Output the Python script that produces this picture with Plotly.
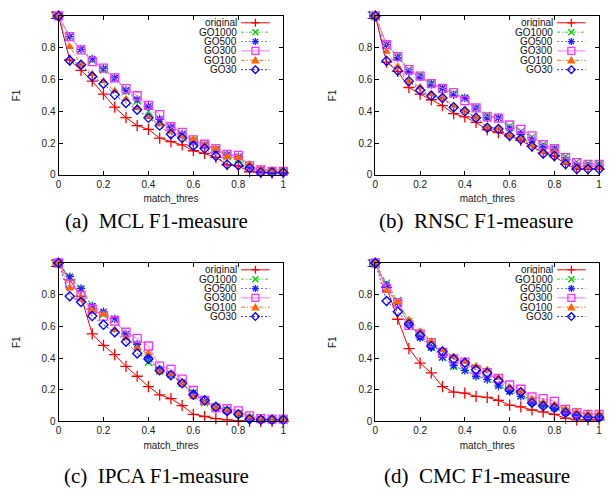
import plotly.graph_objects as go

thres = [0, 0.05, 0.1, 0.15, 0.2, 0.25, 0.3, 0.35, 0.4, 0.45, 0.5,
         0.55, 0.6, 0.65, 0.7, 0.75, 0.8, 0.85, 0.9, 0.95, 1.0]

series_names = ["original", "GO1000", "GO500", "GO300", "GO100", "GO30"]

# (a) MCL
mcl_original = [1.0, 0.723, 0.658, 0.59, 0.508, 0.426, 0.36, 0.31, 0.287, 0.232, 0.209,
                0.189, 0.152, 0.135, 0.11, 0.064, 0.057, 0.02, 0.015, 0.012, 0.012]
mcl_go1000 = [1.0, 0.87, 0.79, 0.72, 0.66, 0.607, 0.525, 0.467, 0.40, 0.334, 0.297,
              0.248, 0.217, 0.19, 0.16, 0.115, 0.10, 0.047, 0.03, 0.022, 0.02]
mcl_go500 = [1.0, 0.87, 0.79, 0.73, 0.67, 0.61, 0.533, 0.475, 0.432, 0.35, 0.30,
             0.258, 0.205, 0.185, 0.16, 0.127, 0.115, 0.049, 0.027, 0.02, 0.016]
mcl_go300 = [1.0, 0.87, 0.787, 0.713, 0.672, 0.61, 0.543, 0.498, 0.438, 0.379, 0.303,
             0.268, 0.221, 0.193, 0.166, 0.129, 0.123, 0.057, 0.031, 0.023, 0.023]
mcl_go100 = [1.0, 0.805, 0.693, 0.635, 0.59, 0.529, 0.477, 0.422, 0.365, 0.32, 0.273,
             0.242, 0.225, 0.19, 0.166, 0.115, 0.109, 0.068, 0.037, 0.031, 0.031]
mcl_go30 = [1.0, 0.72, 0.693, 0.619, 0.574, 0.504, 0.453, 0.41, 0.359, 0.31, 0.256,
            0.232, 0.184, 0.166, 0.119, 0.066, 0.061, 0.043, 0.016, 0.016, 0.016]

# (b) RNSC
rnsc_original = [1.0, 0.71, 0.652, 0.55, 0.508, 0.473, 0.436, 0.385, 0.365, 0.33, 0.283,
                 0.266, 0.246, 0.217, 0.18, 0.139, 0.119, 0.068, 0.037, 0.037, 0.037]
rnsc_go1000 = [1.0, 0.82, 0.75, 0.662, 0.627, 0.578, 0.545, 0.512, 0.484, 0.422, 0.375,
               0.359, 0.307, 0.273, 0.238, 0.19, 0.17, 0.115, 0.082, 0.07, 0.07]
rnsc_go500 = [1.0, 0.82, 0.738, 0.648, 0.615, 0.57, 0.545, 0.504, 0.484, 0.422, 0.36,
              0.359, 0.293, 0.256, 0.221, 0.176, 0.16, 0.094, 0.061, 0.057, 0.057]
rnsc_go300 = [1.0, 0.82, 0.744, 0.662, 0.621, 0.574, 0.545, 0.518, 0.467, 0.422, 0.365,
              0.357, 0.314, 0.287, 0.246, 0.19, 0.166, 0.109, 0.078, 0.066, 0.066]
rnsc_go100 = [1.0, 0.775, 0.682, 0.59, 0.553, 0.512, 0.484, 0.436, 0.402, 0.365, 0.303,
              0.293, 0.246, 0.232, 0.19, 0.15, 0.143, 0.082, 0.053, 0.053, 0.053]
rnsc_go30 = [1.0, 0.717, 0.656, 0.59, 0.533, 0.498, 0.484, 0.426, 0.40, 0.36, 0.297,
             0.289, 0.246, 0.225, 0.18, 0.135, 0.119, 0.068, 0.037, 0.037, 0.037]

# (c) IPCA
ipca_original = [1.0, 0.893, 0.79, 0.552, 0.48, 0.421, 0.347, 0.285, 0.22, 0.168, 0.144,
                 0.10, 0.045, 0.031, 0.018, 0.01, 0.004, 0.0, 0.0, 0.0, 0.0]
ipca_go1000 = [1.0, 0.907, 0.832, 0.723, 0.676, 0.647, 0.538, 0.47, 0.374, 0.318, 0.298,
               0.24, 0.179, 0.117, 0.092, 0.072, 0.051, 0.025, 0.014, 0.01, 0.01]
ipca_go500 = [1.0, 0.914, 0.84, 0.729, 0.692, 0.647, 0.552, 0.487, 0.405, 0.326, 0.298,
              0.244, 0.179, 0.127, 0.086, 0.066, 0.045, 0.018, 0.014, 0.01, 0.01]
ipca_go300 = [1.0, 0.867, 0.795, 0.708, 0.665, 0.634, 0.563, 0.524, 0.476, 0.349, 0.329,
              0.267, 0.195, 0.133, 0.086, 0.08, 0.066, 0.035, 0.018, 0.014, 0.014]
ipca_go100 = [1.0, 0.84, 0.774, 0.702, 0.676, 0.579, 0.524, 0.462, 0.429, 0.312, 0.298,
              0.236, 0.154, 0.117, 0.086, 0.072, 0.045, 0.031, 0.018, 0.01, 0.01]
ipca_go30 = [1.0, 0.79, 0.754, 0.665, 0.61, 0.563, 0.503, 0.429, 0.394, 0.322, 0.292,
             0.24, 0.168, 0.133, 0.092, 0.066, 0.045, 0.014, 0.01, 0.01, 0.01]

# (d) CMC
cmc_original = [1.0, 0.846, 0.645, 0.46, 0.368, 0.306, 0.22, 0.185, 0.179, 0.158, 0.152,
                0.133, 0.103, 0.092, 0.072, 0.06, 0.045, 0.02, 0.01, 0.01, 0.01]
cmc_go1000 = [1.0, 0.873, 0.764, 0.63, 0.538, 0.47, 0.405, 0.347, 0.322, 0.292, 0.267,
              0.23, 0.193, 0.162, 0.127, 0.107, 0.09, 0.062, 0.039, 0.031, 0.031]
cmc_go500 = [1.0, 0.86, 0.749, 0.614, 0.528, 0.466, 0.405, 0.353, 0.322, 0.285, 0.265,
             0.224, 0.189, 0.158, 0.117, 0.101, 0.082, 0.055, 0.035, 0.025, 0.025]
cmc_go300 = [1.0, 0.84, 0.749, 0.606, 0.552, 0.497, 0.435, 0.394, 0.374, 0.326, 0.308,
             0.271, 0.23, 0.203, 0.154, 0.144, 0.127, 0.076, 0.055, 0.045, 0.045]
cmc_go100 = [1.0, 0.825, 0.754, 0.641, 0.569, 0.507, 0.45, 0.409, 0.378, 0.349, 0.326,
             0.277, 0.216, 0.189, 0.142, 0.121, 0.107, 0.08, 0.062, 0.051, 0.051]
cmc_go30 = [1.0, 0.76, 0.692, 0.614, 0.544, 0.476, 0.441, 0.394, 0.37, 0.326, 0.306,
            0.257, 0.199, 0.185, 0.117, 0.097, 0.086, 0.055, 0.035, 0.025, 0.025]

panel_captions = ["(a)  MCL F1-measure", "(b)  RNSC F1-measure",
                  "(c)  IPCA F1-measure", "(d)  CMC F1-measure"]
panel_data = [
    [mcl_original, mcl_go1000, mcl_go500, mcl_go300, mcl_go100, mcl_go30],
    [rnsc_original, rnsc_go1000, rnsc_go500, rnsc_go300, rnsc_go100, rnsc_go30],
    [ipca_original, ipca_go1000, ipca_go500, ipca_go300, ipca_go100, ipca_go30],
    [cmc_original, cmc_go1000, cmc_go500, cmc_go300, cmc_go100, cmc_go30],
]

x_label = "match_thres"
y_label = "F1"

# styles
colors = ["#FF0000", "#00CC00", "#2222FF", "#FF33FF", "#FF6600", "#0000FF"]
line_colors = ["#FF0000", "#22DD22", "#7777FF", "#FF77FF", "#FF7722", "#3333FF"]
dashes = ["solid", "3px,2px,1px,2px", "2px,2px", "solid", "4px,2px,1px,2px", "2px,2px"]
symbols = ["cross-thin", "x-thin", "asterisk", "square-open", "triangle-up", "diamond-open"]
sizes = [8, 7, 7, 8, 6, 7]
# legend sample glyphs as pixel paths
legend_paths = [
    "M-4,0H4M0,-4V4",
    "M-3,-3L3,3M-3,3L3,-3",
    "M-3.5,0H3.5M0,-3.5V3.5M-2.6,-2.6L2.6,2.6M-2.6,2.6L2.6,-2.6",
    "M-3.5,-3.5H3.5V3.5H-3.5Z",
    "M-3.2,-2.6L3.2,-2.6L0,3Z",
    "M0,-3.8L3.8,0L0,3.8L-3.8,0Z",
]
legend_fill = [False, False, False, False, True, False]

OFF = 8  # page offset of the figure inside the browser page
PW, PH = 614, 495
W, H = PW - OFF, PH - OFF


def px_x(x):
    return (x - OFF) / W


def px_y(y):
    return 1 - (y - OFF) / H


x_domains = [[px_x(56), px_x(283)], [px_x(376), px_x(602)]]
y_domains = [[px_y(173), px_y(10)], [px_y(425.7), px_y(263.3)]]

fig = go.Figure()
annotations = []
shapes = []
lab_font = dict(family="Liberation Sans, Arial", size=10, color="#222")

for p in range(4):
    col = p % 2
    row = p // 2
    suffix = "" if p == 0 else str(p + 1)
    xa = "x" + suffix
    ya = "y" + suffix
    for s in range(6):
        fig.add_trace(go.Scatter(
            x=thres, y=panel_data[p][s], mode="lines+markers",
            name=series_names[s], showlegend=False, cliponaxis=False,
            xaxis=xa, yaxis=ya,
            line=dict(color=line_colors[s], width=1, dash=dashes[s]),
            marker=dict(symbol=symbols[s], size=sizes[s], color=colors[s],
                        line=dict(color=colors[s], width=1.3)),
        ))
    axis_common = dict(range=[0, 1], showline=True, mirror="ticks", linecolor="black",
                       linewidth=1, ticks="inside", ticklen=4, tickcolor="black",
                       showgrid=False, zeroline=False, dtick=0.2, tickfont=lab_font)
    fig.update_layout({
        "xaxis" + suffix: dict(axis_common, domain=x_domains[col], anchor=ya,
                               title=dict(text=x_label, standoff=6, font=lab_font)),
        "yaxis" + suffix: dict(axis_common, domain=y_domains[row], anchor=xa,
                               title=dict(text=y_label, standoff=19, font=lab_font)),
    })
    # legend (gnuplot style: text then sample)
    for s in range(6):
        yy = 0.957 - s * 0.059
        annotations.append(dict(
            xref=xa + " domain", yref=ya + " domain", x=0.797, y=yy,
            xanchor="right", yanchor="middle", showarrow=False, text=series_names[s],
            height=9, borderpad=0,
            font=dict(family="Liberation Sans, Arial", size=10, color="#111")))
        shapes.append(dict(
            type="line", xref=xa + " domain", yref=ya + " domain",
            x0=0.812, x1=0.94, y0=yy, y1=yy,
            line=dict(color=line_colors[s], width=1, dash=dashes[s])))
        shapes.append(dict(
            type="path", xref=xa + " domain", yref=ya + " domain",
            xsizemode="pixel", ysizemode="pixel", xanchor=0.876, yanchor=yy,
            path=legend_paths[s],
            fillcolor=colors[s] if legend_fill[s] else "rgba(0,0,0,0)",
            line=dict(color=colors[s], width=1.3)))

caption_pos = [(155, 220.5), (478, 220.5), (155, 482), (479, 482)]
for p in range(4):
    annotations.append(dict(
        xref="paper", yref="paper", x=px_x(caption_pos[p][0]), y=px_y(caption_pos[p][1]),
        xanchor="center", yanchor="middle", showarrow=False, text=panel_captions[p],
        font=dict(family="Liberation Serif, Times New Roman", size=21, color="black")))

fig.update_layout(
    width=W, height=H, margin=dict(l=0, r=0, t=0, b=0),
    paper_bgcolor="white", plot_bgcolor="white",
    annotations=annotations, shapes=shapes, showlegend=False,
)

fig.write_html("out.html")
